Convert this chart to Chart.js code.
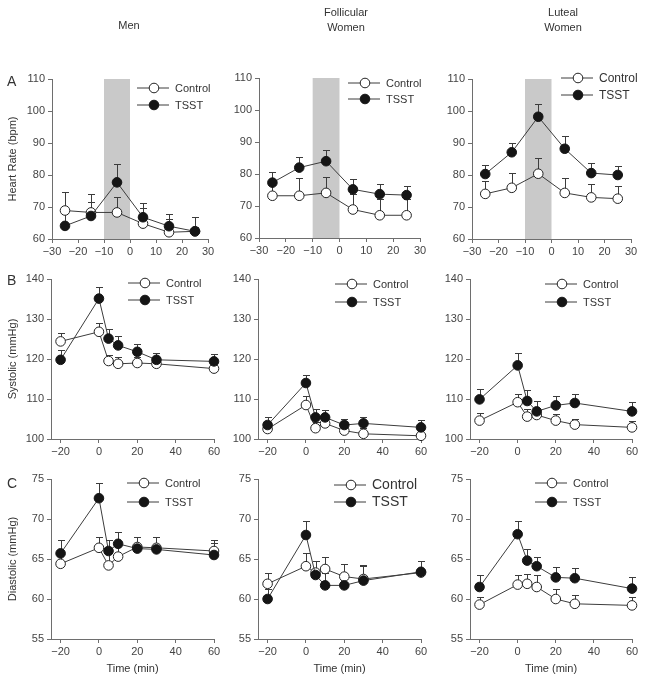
<!DOCTYPE html>
<html>
<head>
<meta charset="utf-8">
<script src="https://cdn.jsdelivr.net/npm/chart.js@4.4.1/dist/chart.umd.min.js"></script>
<style>
  body { margin: 0; background: #fff; }
  #page { position: relative; width: 645px; height: 682px; overflow: hidden; font-family: 'Liberation Sans', Arial, sans-serif; color: #333; }
  #page canvas { position: absolute; left: 0; top: 0; }
  .lbl { position: absolute; font-size: 11px; line-height: 15px; text-align: center; transform: translate(-50%, 0); white-space: pre; }
  .letter { position: absolute; font-size: 14px; line-height: 16px; }
</style>
</head>
<body>
<div id="page"></div>
<script>
const seriesNames = ['Control', 'TSST'];
const groupNames = ['Men', 'Follicular\nWomen', 'Luteal\nWomen'];
const panelLetters = ['A', 'B', 'C'];
const yTitles = ['Heart Rate (bpm)', 'Systolic (mmHg)', 'Diastolic (mmHg)'];
const xTitle = 'Time (min)';

const hrTimes = [-25, -15, -5, 5, 15, 25];
const bpTimes = [-20, 0, 5, 10, 20, 30, 60];
const hrXTicks = [-30, -20, -10, 0, 10, 20, 30];
const bpXTicks = [-20, 0, 20, 40, 60];
const hrYTicks = [60, 70, 80, 90, 100, 110];
const sysYTicks = [100, 110, 120, 130, 140];
const diaYTicks = [55, 60, 65, 70, 75];
const stressWindow = [-10, 0];

// heart rate
const menHrControl = [68.9, 68.3, 68.3, 64.8, 62.1, 62.4];
const menHrControlErr = [5.7, 5.8, 4.9, 4.8, 4.2, 1.5];
const menHrTsst = [64.1, 67.2, 77.7, 66.8, 64.0, 62.4];
const menHrTsstErr = [4.0, 4.4, 5.7, 4.3, 3.9, 4.4];
const folHrControl = [73.2, 73.2, 74.1, 68.9, 67.1, 67.1];
const folHrControlErr = [4.0, 5.6, 4.9, 5.0, 5.0, 5.0];
const folHrTsst = [77.3, 82.0, 84.0, 75.2, 73.7, 73.4];
const folHrTsstErr = [3.2, 3.2, 3.6, 3.2, 3.2, 3.0];
const lutHrControl = [74.1, 76.0, 80.4, 74.4, 73.0, 72.6];
const lutHrControlErr = [4.0, 4.7, 4.9, 4.7, 4.3, 4.1];
const lutHrTsst = [80.3, 87.1, 98.2, 88.2, 80.6, 80.0];
const lutHrTsstErr = [2.9, 3.0, 4.1, 3.9, 3.0, 2.9];

// systolic
const menSysControl = [124.4, 126.8, 119.5, 118.8, 119.0, 118.8, 117.6];
const menSysControlErr = [2.1, 2.3, 1.4, 1.7, 1.5, 1.5, 1.5];
const menSysTsst = [119.8, 135.1, 125.1, 123.4, 121.8, 119.8, 119.4];
const menSysTsstErr = [2.5, 2.8, 2.3, 2.3, 2.0, 1.7, 1.9];
const folSysControl = [102.5, 108.5, 102.7, 103.9, 102.1, 101.3, 100.8];
const folSysControlErr = [1.5, 2.2, 1.5, 1.5, 1.5, 1.5, 1.5];
const folSysTsst = [103.5, 114.0, 105.4, 105.4, 103.5, 103.9, 102.9];
const folSysTsstErr = [1.9, 2.1, 2.1, 1.9, 1.5, 1.5, 1.9];
const lutSysControl = [104.6, 109.2, 105.6, 106.0, 104.6, 103.6, 102.9];
const lutSysControlErr = [1.9, 2.1, 1.8, 1.8, 1.7, 1.4, 1.7];
const lutSysTsst = [109.9, 118.4, 109.5, 106.9, 108.4, 109.0, 106.9];
const lutSysTsstErr = [2.7, 3.1, 2.8, 2.5, 2.3, 2.3, 2.3];

// diastolic
const menDiaControl = [64.4, 66.4, 64.2, 65.3, 66.5, 66.4, 66.0];
const menDiaControlErr = [1.5, 1.4, 1.5, 1.5, 1.25, 1.3, 1.4];
const menDiaTsst = [65.7, 72.6, 66.0, 66.9, 66.3, 66.2, 65.5];
const menDiaTsstErr = [1.65, 1.9, 1.4, 1.5, 1.5, 1.5, 1.5];
const folDiaControl = [61.9, 64.1, 63.3, 63.75, 62.8, 62.5, 63.3];
const folDiaControlErr = [1.4, 1.65, 1.5, 1.55, 1.6, 1.6, 1.4];
const folDiaTsst = [60.0, 68.0, 63.0, 61.7, 61.7, 62.3, 63.4];
const folDiaTsstErr = [1.2, 1.7, 1.8, 1.5, 1.5, 1.9, 1.3];
const lutDiaControl = [59.3, 61.8, 61.9, 61.5, 60.0, 59.4, 59.2];
const lutDiaControlErr = [1.0, 1.2, 1.2, 1.5, 1.3, 1.1, 1.0];
const lutDiaTsst = [61.5, 68.1, 64.8, 64.1, 62.7, 62.6, 61.3];
const lutDiaTsstErr = [1.5, 1.7, 1.45, 1.15, 1.3, 1.3, 1.5];

const FONT = "'Liberation Sans', Arial, sans-serif";
const axisColor = '#6e6e6e';
const tickColor = '#444';
const lineColor = '#3c3c3c';

// panel boxes: [left, top, right, bottom] of the plot area, legend position
const panels = [
  {row: 0, col: 0, times: hrTimes, c: menHrControl, ce: menHrControlErr, t: menHrTsst, te: menHrTsstErr, box: [52, 79, 208, 239], legend: {x: 137, y: 88, gap: 17, size: 11}},
  {row: 0, col: 1, times: hrTimes, c: folHrControl, ce: folHrControlErr, t: folHrTsst, te: folHrTsstErr, box: [259, 78, 420, 238], legend: {x: 348, y: 83, gap: 16, size: 11}},
  {row: 0, col: 2, times: hrTimes, c: lutHrControl, ce: lutHrControlErr, t: lutHrTsst, te: lutHrTsstErr, box: [472, 79, 631, 239], legend: {x: 561, y: 78, gap: 17, size: 12}},
  {row: 1, col: 0, times: bpTimes, c: menSysControl, ce: menSysControlErr, t: menSysTsst, te: menSysTsstErr, box: [51, 279, 214, 439], legend: {x: 128, y: 283, gap: 17, size: 11}},
  {row: 1, col: 1, times: bpTimes, c: folSysControl, ce: folSysControlErr, t: folSysTsst, te: folSysTsstErr, box: [258, 279, 421, 439], legend: {x: 335, y: 284, gap: 18, size: 11}},
  {row: 1, col: 2, times: bpTimes, c: lutSysControl, ce: lutSysControlErr, t: lutSysTsst, te: lutSysTsstErr, box: [470, 279, 632, 439], legend: {x: 545, y: 284, gap: 18, size: 11}},
  {row: 2, col: 0, times: bpTimes, c: menDiaControl, ce: menDiaControlErr, t: menDiaTsst, te: menDiaTsstErr, box: [51, 479, 214, 639], legend: {x: 127, y: 483, gap: 19, size: 11}},
  {row: 2, col: 1, times: bpTimes, c: folDiaControl, ce: folDiaControlErr, t: folDiaTsst, te: folDiaTsstErr, box: [258, 479, 421, 639], legend: {x: 334, y: 485, gap: 17, size: 14}},
  {row: 2, col: 2, times: bpTimes, c: lutDiaControl, ce: lutDiaControlErr, t: lutDiaTsst, te: lutDiaTsstErr, box: [470, 479, 632, 639], legend: {x: 535, y: 483, gap: 19, size: 11}}
];

const rowYTicks = [hrYTicks, sysYTicks, diaYTicks];

function fmt(v) {
  return String(v).replace('-', '\u2212');
}

// grey band for the stress task, then upward error bars
const extrasPlugin = {
  id: 'extras',
  beforeDatasetsDraw(chart, args, opts) {
    const {ctx, chartArea, scales: {x, y}} = chart;
    ctx.save();
    if (opts.shade) {
      const x0 = x.getPixelForValue(opts.shade[0]);
      const x1 = x.getPixelForValue(opts.shade[1]);
      ctx.fillStyle = '#c9c9c9';
      ctx.fillRect(x0, chartArea.top, x1 - x0, chartArea.bottom - chartArea.top);
    }
    ctx.strokeStyle = lineColor;
    ctx.lineWidth = 1;
    chart.data.datasets.forEach(ds => {
      ds.data.forEach((p, i) => {
        const px = Math.round(x.getPixelForValue(p.x)) + 0.5;
        const py = y.getPixelForValue(p.y);
        const pt = Math.round(y.getPixelForValue(p.y + ds.errors[i])) + 0.5;
        ctx.beginPath();
        ctx.moveTo(px, py);
        ctx.lineTo(px, pt);
        ctx.moveTo(px - 3.5, pt);
        ctx.lineTo(px + 3.5, pt);
        ctx.stroke();
      });
    });
    ctx.restore();
  }
};

// legend drawn as line with marker, like the original figure
const lineLegendPlugin = {
  id: 'lineLegend',
  afterDraw(chart, args, opts) {
    const ctx = chart.ctx;
    ctx.save();
    ctx.font = opts.size + 'px ' + FONT;
    ctx.textBaseline = 'middle';
    chart.data.datasets.forEach((ds, i) => {
      const yy = opts.y + i * opts.gap;
      ctx.strokeStyle = lineColor;
      ctx.lineWidth = 1;
      ctx.beginPath();
      ctx.moveTo(opts.x, yy);
      ctx.lineTo(opts.x + 32, yy);
      ctx.stroke();
      ctx.beginPath();
      ctx.arc(opts.x + 17, yy, ds.pointRadius, 0, Math.PI * 2);
      ctx.fillStyle = ds.pointBackgroundColor;
      ctx.fill();
      ctx.strokeStyle = ds.pointBorderColor;
      ctx.stroke();
      ctx.fillStyle = '#333';
      ctx.fillText(ds.label, opts.x + 38, yy + 0.5);
    });
    ctx.restore();
  }
};

const page = document.getElementById('page');

panels.forEach(p => {
  const canvas = document.createElement('canvas');
  canvas.width = 645;
  canvas.height = 682;
  page.appendChild(canvas);

  const [left, top, right, bottom] = p.box;
  const yW = p.col === 0 ? left : 40;
  const xH = p.row === 2 ? 37 : 30;
  const isHr = p.row === 0;
  const yTicks = rowYTicks[p.row];
  const xTicks = isHr ? hrXTicks : bpXTicks;

  new Chart(canvas, {
    type: 'scatter',
    data: {
      datasets: [
        {
          label: seriesNames[0],
          data: p.times.map((tm, i) => ({x: tm, y: p.c[i]})),
          errors: p.ce,
          showLine: true,
          clip: false,
          borderColor: lineColor,
          borderWidth: 1,
          pointRadius: 4.8,
          pointBackgroundColor: '#fff',
          pointBorderColor: '#222',
          pointBorderWidth: 1,
          order: 1
        },
        {
          label: seriesNames[1],
          data: p.times.map((tm, i) => ({x: tm, y: p.t[i]})),
          errors: p.te,
          showLine: true,
          clip: false,
          borderColor: lineColor,
          borderWidth: 1,
          pointRadius: 4.8,
          pointBackgroundColor: '#151515',
          pointBorderColor: '#151515',
          pointBorderWidth: 1,
          order: 0
        }
      ]
    },
    options: {
      responsive: false,
      animation: false,
      devicePixelRatio: 1,
      layout: {
        padding: {left: left - yW, top: top, right: 645 - right, bottom: 682 - bottom - xH}
      },
      plugins: {
        legend: {display: false},
        tooltip: {enabled: false},
        extras: {shade: isHr ? stressWindow : null},
        lineLegend: p.legend
      },
      scales: {
        x: {
          type: 'linear',
          min: isHr ? -30 : -25,
          max: isHr ? 30 : 60,
          afterBuildTicks: ax => { ax.ticks = xTicks.map(v => ({value: v})); },
          afterFit: ax => { ax.height = xH; },
          border: {color: axisColor, width: 1},
          grid: {drawOnChartArea: false, drawTicks: true, tickLength: 4, color: axisColor},
          ticks: {color: tickColor, font: {size: 11, family: FONT}, padding: 2, maxRotation: 0, autoSkip: false, callback: v => fmt(v)},
          title: {display: p.row === 2, text: xTitle, color: '#333', font: {size: 11, family: FONT}, padding: {top: 0, bottom: 0}}
        },
        y: {
          type: 'linear',
          min: yTicks[0],
          max: yTicks[yTicks.length - 1],
          afterBuildTicks: ax => { ax.ticks = yTicks.map(v => ({value: v})); },
          afterFit: ax => { ax.width = yW; },
          border: {color: axisColor, width: 1},
          grid: {drawOnChartArea: false, drawTicks: true, tickLength: 4, color: axisColor},
          ticks: {color: tickColor, font: {size: 11, family: FONT}, padding: 3, callback: v => fmt(v)},
          title: {display: p.col === 0, text: yTitles[p.row], color: '#333', font: {size: 11, family: FONT}, padding: {top: 6, bottom: 0}}
        }
      }
    },
    plugins: [extrasPlugin, lineLegendPlugin]
  });
});

// column headings and panel letters
const headX = [129, 346, 563];
groupNames.forEach((g, i) => {
  const d = document.createElement('div');
  d.className = 'lbl';
  d.textContent = g;
  d.style.left = headX[i] + 'px';
  d.style.top = (g.includes('\n') ? 5 : 18) + 'px';
  page.appendChild(d);
});
const letterY = [73, 272, 475];
panelLetters.forEach((l, i) => {
  const d = document.createElement('div');
  d.className = 'letter';
  d.textContent = l;
  d.style.left = '7px';
  d.style.top = letterY[i] + 'px';
  page.appendChild(d);
});
</script>
</body>
</html>
